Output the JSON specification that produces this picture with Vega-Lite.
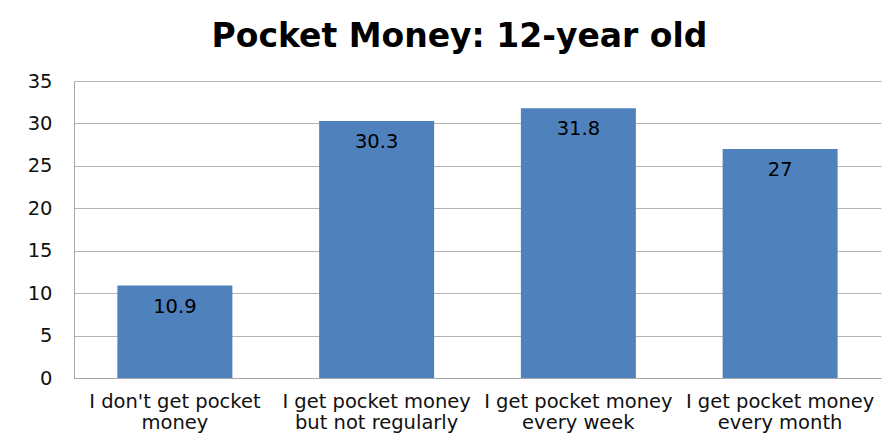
{
  "$schema": "https://vega.github.io/schema/vega-lite/v6.json",
  "autosize": "none",
  "width": 807,
  "height": 297,
  "padding": {"left": 74, "top": 81, "right": 15, "bottom": 66},
  "background": "#ffffff",
  "title": {
    "text": "Pocket Money: 12-year old",
    "font": "DejaVu Sans",
    "fontSize": 33,
    "fontWeight": "bold",
    "color": "#000000",
    "anchor": "middle",
    "dx": -18,
    "offset": 17
  },
  "data": {
    "values": [
      {"category": "I don't get pocket|money", "value": 10.9},
      {"category": "I get pocket money|but not regularly", "value": 30.3},
      {"category": "I get pocket money|every week", "value": 31.8},
      {"category": "I get pocket money|every month", "value": 27}
    ]
  },
  "encoding": {
    "x": {
      "field": "category",
      "type": "nominal",
      "sort": null,
      "scale": {"paddingInner": 0.43, "paddingOuter": 0.215},
      "axis": {
        "title": null,
        "labelAngle": 0,
        "labelExpr": "split(datum.value, '|')",
        "labelFont": "DejaVu Sans",
        "labelFontSize": 19.5,
        "labelColor": "#111111",
        "labelOverlap": false,
        "labelBound": false,
        "labelLimit": 0,
        "labelPadding": 14,
        "labelLineHeight": 21,
        "ticks": false,
        "domainColor": "#a6a6a6",
        "grid": false
      }
    },
    "y": {
      "field": "value",
      "type": "quantitative",
      "scale": {"domain": [0, 35], "nice": false},
      "axis": {
        "title": null,
        "values": [0, 5, 10, 15, 20, 25, 30, 35],
        "labelFont": "DejaVu Sans",
        "labelFontSize": 19.5,
        "labelColor": "#111111",
        "labelPadding": 22,
        "ticks": false,
        "domainColor": "#a6a6a6",
        "gridColor": "#b4b4b4",
        "grid": true
      }
    }
  },
  "layer": [
    {"mark": {"type": "bar", "color": "#4f81bd"}},
    {
      "mark": {
        "type": "text",
        "baseline": "middle",
        "dy": 21,
        "font": "DejaVu Sans",
        "fontSize": 19.5,
        "color": "#000000"
      },
      "encoding": {"text": {"field": "value", "type": "quantitative"}}
    }
  ],
  "config": {"view": {"stroke": null}}
}
